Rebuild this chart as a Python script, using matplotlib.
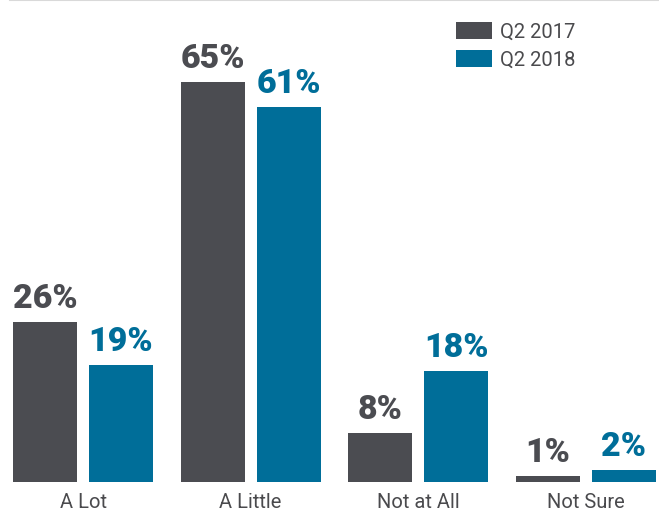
import numpy as np
import matplotlib as mpl
mpl.use('Agg')
import matplotlib.pyplot as plt

categories = ['A Lot', 'A Little', 'Not at All', 'Not Sure']
q2_2017 = [26, 65, 8, 1]
q2_2018 = [19, 61, 18, 2]
series_names = ['Q2 2017', 'Q2 2018']

gray = '#4b4c51'
blue = '#006e99'
text_gray = '#4a4a4d'

plt.rcParams['font.family'] = ['Roboto', 'DejaVu Sans']

W, H = 659, 514
fig = plt.figure(figsize=(W / 100, H / 100), dpi=100)
# axes spans from x=10px to the right edge, baseline at y=482px
ax = fig.add_axes([10 / W, 32 / H, 649 / W, 482 / H])

x = np.arange(len(categories))
width = 0.3817
off = 0.2266

b1 = ax.bar(x - off, q2_2017, width, color=gray, label=series_names[0])
b2 = ax.bar(x + off, q2_2018, width, color=blue, label=series_names[1])

for bars, vals, c in [(b1, q2_2017, gray), (b2, q2_2018, blue)]:
    for rect, v in zip(bars, vals):
        ax.annotate('%d%%' % v, (rect.get_x() + rect.get_width() / 2, v),
                    xytext=(0, 5), textcoords='offset points',
                    ha='center', va='bottom', fontsize=24.5, fontweight='black',
                    color=c)

ax.set_xlim(-0.4354, 3.4354)
ax.set_ylim(0, 482 / 6.15)

ax.set_xticks(x)
ax.set_xticklabels(categories, fontsize=14.5, color=text_gray)
ax.tick_params(axis='x', length=0, pad=8)
ax.set_yticks([])

for s in ['left', 'right', 'bottom']:
    ax.spines[s].set_visible(False)
ax.spines['top'].set_color('#d9d9d9')
ax.spines['top'].set_linewidth(1.5)

ax.legend(loc='upper left', bbox_to_anchor=(456 / W, 1 - 22 / H),
          bbox_transform=fig.transFigure, frameon=False, fontsize=14.5,
          labelcolor=text_gray, handlelength=1.79, handleheight=0.9,
          handletextpad=0.4, labelspacing=0.44, borderpad=0,
          borderaxespad=0)

fig.savefig('out.png', dpi=100)
